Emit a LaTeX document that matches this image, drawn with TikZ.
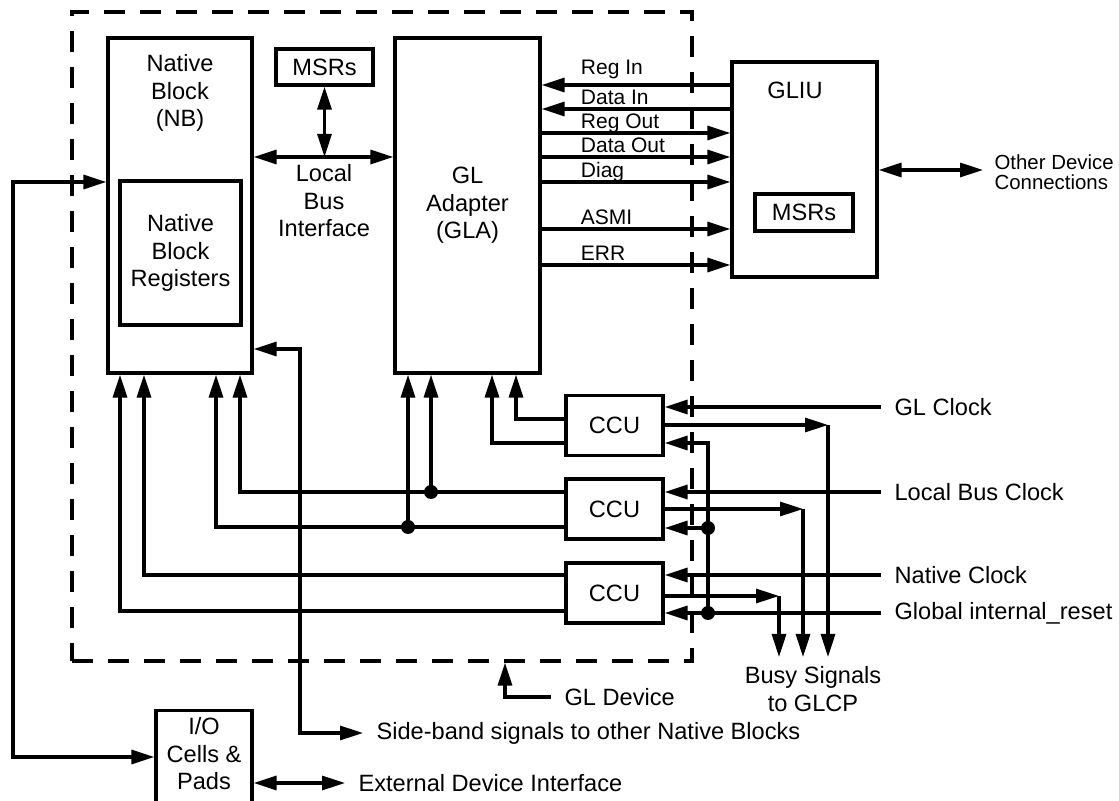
\documentclass[tikz,border=0pt]{standalone}
\usepackage{fontspec}
\setmainfont{Liberation Sans}
\usetikzlibrary{arrows.meta}

\begin{document}
\begin{tikzpicture}[x=0.5pt, y=-0.5pt, line width=1.6pt, >={Triangle[length=11.5pt, width=7pt]},
	box/.style={draw, rectangle, inner sep=0pt, align=center, font=\fontsize{11.8}{13.75}\selectfont},
	txt/.style={inner sep=0pt, align=center, font=\fontsize{11.8}{13.75}\selectfont},
	lbl/.style={anchor=west, inner xsep=6pt, inner ysep=0pt, align=left, font=\fontsize{11.8}{13.75}\selectfont},
	sig/.style={pos=0.2, anchor=base west, yshift=2pt, inner sep=0pt, font=\fontsize{10.5}{12}\selectfont},
	dot/.style={circle, fill, inner sep=0pt, minimum size=7pt},
	ccu/.style={box, minimum width=48.5pt, minimum height=30pt}]

	\useasboundingbox (0,0) rectangle (1119,801);
	\clip (0,0) rectangle (1119,801);

	\node[draw, dash pattern=on 10.5pt off 7.5pt, minimum width=310pt, minimum height=324.5pt] (gldev) at (382,336.5) {};

	\node[box, minimum width=72pt, minimum height=167.5pt] (nb) at (180,205.5) {};
	\node[txt] (nbname) at (180,93) {Native\\Block\\(NB)};
	\node[box, minimum width=60.5pt, minimum height=72pt] (nbreg) at (180.5,253) {Native\\Block\\Registers};
	\node[box, minimum width=48.5pt, minimum height=18pt] (msr) at (324.5,67) {MSRs};
	\node[txt] (lbi) at (324,201) {Local\\Bus\\Interface};
	\node[box, minimum width=72.5pt, minimum height=167.5pt] (gla) at (467.5,205.5) {GL\\Adapter\\(GLA)};
	\node[box, minimum width=72.5pt, minimum height=107.5pt] (gliu) at (804.5,169.5) {};
	\node[txt] (gliuname) at (795,90) {GLIU};
	\node[box, minimum width=49pt, minimum height=18.5pt] (gliumsr) at (804,212.5) {MSRs};
	\node[lbl, inner xsep=5pt, font=\fontsize{10.2}{10}\selectfont] (other) at (983,172) {Other Device\\Connections};

	\node[ccu] (ccua) at (614.5,425.5) {CCU};
	\node[ccu] (ccub) at (614.5,509) {CCU};
	\node[ccu] (ccuc) at (614.5,593) {CCU};

	\node[lbl] (glclk) at (881,407) {GL Clock};
	\node[lbl] (lbclk) at (881,492) {Local Bus Clock};
	\node[lbl] (natclk) at (881,575) {Native Clock};
	\node[lbl] (rst) at (881,613) {Global internal\_reset};
	\node[txt] (busy) at (813,689) {Busy Signals\\to GLCP};

	\node[lbl] (gdl) at (551,697) {GL Device};
	\node[lbl] (sbl) at (363,733) {Side-band signals to other Native Blocks};
	\node[lbl] (extl) at (345,783) {External Device Interface};
	\node[box, anchor=north, minimum width=48pt, minimum height=80pt] (io) at (204,709) {};
	\node[txt] (iotxt) at (204,754) {I/O\\Cells \&\\Pads};

	\node[dot] (ja) at (431,492) {};
	\node[dot] (jb) at (408,527) {};
	\node[dot] (ra) at (708,528) {};
	\node[dot] (rb) at (708,613) {};
	\coordinate (busya) at (779,657);
	\coordinate (busyb) at (803,657);
	\coordinate (busyc) at (828,657);

	\draw[<->] (nb.east |- 0,157) -- (gla.west |- 0,157);
	\draw[<->] (msr) -- (msr.south |- 0,157);

	\path
		(gla.east |- 0,85) edge[<-] node[sig, yshift=3pt] {Reg In} (gliu.west |- 0,85)
		(gla.east |- 0,109) edge[<-] node[sig] {Data In} (gliu.west |- 0,109)
		(gla.east |- 0,133) edge[->] node[sig] {Reg Out} (gliu.west |- 0,133)
		(gla.east |- 0,157) edge[->] node[sig] {Data Out} (gliu.west |- 0,157)
		(gla.east |- 0,182) edge[->] node[sig] {Diag} (gliu.west |- 0,182)
		(gla.east |- 0,229) edge[->] node[sig] {ASMI} (gliu.west |- 0,229)
		(gla.east |- 0,265) edge[->] node[sig] {ERR} (gliu.west |- 0,265);
	\draw[<->] (gliu.east |- 0,170) -- (other.west |- 0,170);

	\draw[->] (glclk.west) -- (ccua.east |- glclk.west);
	\draw[->] (lbclk.west) -- (ccub.east |- lbclk.west);
	\draw[->] (natclk.west) -- (ccuc.east |- natclk.west);
	\draw[->] (rst.west) -- (ccuc.east |- rst.west);
	\draw[->] (rb.center) |- (ccua.east |- 0,443);
	\draw[->] (ra.center) -- (ccub.east |- ra);

	\draw[->] (ccua.east |- 0,425) -- (busyc |- 0,425);
	\draw[->] (busyc |- 0,425) -- (busyc);
	\draw[->] (ccub.east |- 0,509) -- (busyb |- 0,509);
	\draw[->] (busyb |- 0,509) -- (busyb);
	\draw[->] (ccuc.east |- 0,596) -- (busya |- 0,596);
	\draw[->] (busya |- 0,596) -- (busya);

	\draw[->] (ccua.west |- 0,419) -| (516,0 |- gla.south);
	\draw[->] (ccua.west |- 0,443) -| (492,0 |- gla.south);
	\draw[->] (ccub.west |- ja) -| (240,0 |- nb.south);
	\draw[->] (ja.center) -- (ja |- gla.south);
	\draw[->] (ccub.west |- jb) -| (216,0 |- nb.south);
	\draw[->] (jb.center) -- (jb |- gla.south);
	\draw[->] (ccuc.west |- 0,575) -| (144,0 |- nb.south);
	\draw[->] (ccuc.west |- 0,611) -| (120,0 |- nb.south);

	\draw[<->] (nb.east |- 0,349) -| (sbl.west -| 300,0) -- (sbl.west);
	\draw[<->] (nb.west |- 0,182) -| (13,757) -- (io.west |- 0,757);
	\draw[<->] (io.east |- 0,783) -- (extl.west);
	\draw[->] (gdl.west) -| (505,0 |- gldev.south);

\end{tikzpicture}
\end{document}
